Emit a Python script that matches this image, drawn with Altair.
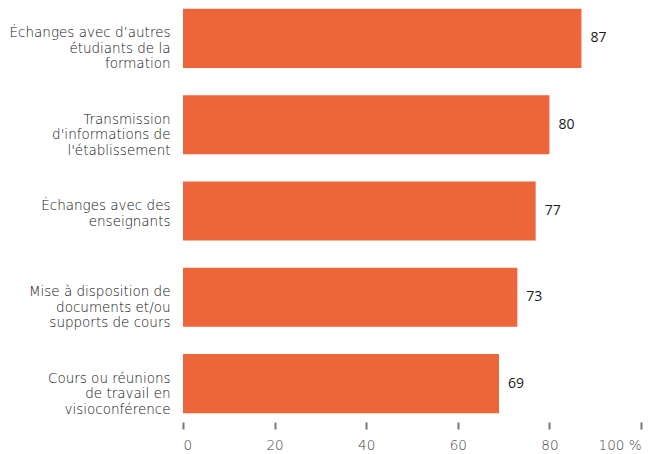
import altair as alt
import pandas as pd

categories = [
    "Échanges avec d’autres\nétudiants de la\nformation",
    "Transmission\nd'informations de\nl'établissement",
    "Échanges avec des\nenseignants",
    "Mise à disposition de\ndocuments et/ou\nsupports de cours",
    "Cours ou réunions\nde travail en\nvisioconférence",
]
values = [87, 80, 77, 73, 69]

df = pd.DataFrame({"cat": categories, "val": values})

y = alt.Y("cat:N", sort=categories, title=None,
          scale=alt.Scale(paddingInner=0.315, paddingOuter=0.01),
          axis=alt.Axis(domain=False, ticks=False, labelPadding=13,
                        labelOffset=-5,
                        labelExpr="split(datum.label, '\\n')",
                        labelFontSize=13.5, labelLineHeight=15.5,
                        labelColor="#111111", labelFont="DejaVu Sans",
                        labelFontWeight=200,
                        labelLimit=300))
x = alt.X("val:Q", title=None,
          scale=alt.Scale(domain=[0, 100], nice=False),
          axis=alt.Axis(values=[0, 20, 40, 60, 80, 100], domain=False, grid=False,
                        tickSize=7, tickWidth=2, tickColor="#777777", offset=8,
                        labelPadding=9, labelFontSize=13.5, labelColor="#444444",
                        labelFont="DejaVu Sans", labelFontWeight=200,
                        labelExpr="datum.value == 100 ? '100 %' : datum.label"))

bars = alt.Chart(df).mark_bar(color="#EC6639").encode(x=x, y=y)
text = alt.Chart(df).mark_text(align="left", dx=9, fontSize=14, color="#1a1a1a",
                               font="Open Sans").encode(
    x="val:Q", y=alt.Y("cat:N", sort=categories), text="val:Q")

chart = (bars + text).properties(
    width=458, height=406,
    autosize=alt.AutoSizeParams(type="none"),
    padding={"left": 175, "top": 0, "right": 14, "bottom": 40},
).configure_view(stroke=None)

chart.save("out.html", embed_options={"renderer": "svg", "actions": False})
